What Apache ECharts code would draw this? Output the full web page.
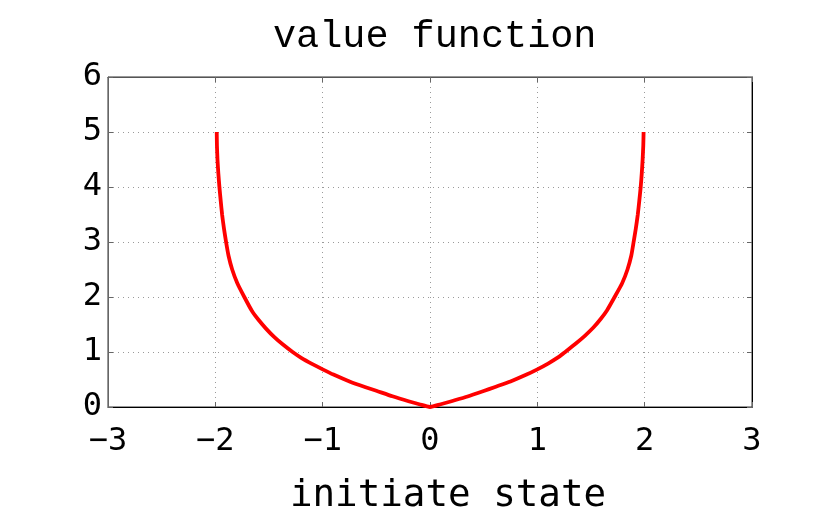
<!DOCTYPE html>
<html>
<head>
<meta charset="utf-8">
<script src="https://cdn.jsdelivr.net/npm/echarts@6/dist/echarts.min.js"></script>
<style>html,body{margin:0;padding:0;background:#fff}#c{width:830px;height:513px}</style>
</head>
<body>
<div id="c"></div>
<script>
const titleText = 'value function';
const xLabel = 'initiate state';
const xTicks = [-3, -2, -1, 0, 1, 2, 3];
const yTicks = [0, 1, 2, 3, 4, 5, 6];
const xValues = [-1.987, -1.985, -1.980, -1.972, -1.962, -1.950, -1.937, -1.920, -1.900, -1.877, -1.843, -1.795, -1.730, -1.660, -1.600, -1.530, -1.450, -1.370, -1.280, -1.200, -1.100, -1.000, -0.900, -0.750, -0.600, -0.500, -0.350, -0.200, -0.100, 0,
                 0.100, 0.200, 0.350, 0.500, 0.600, 0.750, 0.900, 1.000, 1.100, 1.200, 1.260, 1.350, 1.440, 1.520, 1.590, 1.650, 1.720, 1.790, 1.840, 1.875, 1.897, 1.918, 1.936, 1.950, 1.963, 1.973, 1.981, 1.987, 1.990];
const yValues = [5.00, 4.75, 4.50, 4.25, 4.00, 3.75, 3.50, 3.25, 3.00, 2.75, 2.50, 2.25, 2.00, 1.75, 1.59, 1.43, 1.27, 1.135, 1.00, 0.895, 0.785, 0.685, 0.59, 0.465, 0.36, 0.295, 0.195, 0.105, 0.05, 0,
                 0.05, 0.105, 0.19, 0.29, 0.36, 0.465, 0.59, 0.685, 0.79, 0.91, 1.00, 1.14, 1.29, 1.44, 1.60, 1.76, 2.00, 2.25, 2.50, 2.75, 3.00, 3.25, 3.50, 3.75, 4.00, 4.25, 4.50, 4.75, 5.00];

const data = xValues.map((x, i) => [x, yValues[i]]);
const mono = 'DejaVu Sans Mono';
const fmt = v => (v < 0 ? '\u2212' + Math.abs(v) : String(v));

const chart = echarts.init(document.getElementById('c'), null, {renderer: 'canvas'});
const gridLine = {show: true, lineStyle: {color: '#9a9a9a', type: [1, 4], width: 1}};
chart.setOption({
  animation: false,
  backgroundColor: '#fff',
  title: {
    text: titleText, left: 268, top: 12,
    textStyle: {fontFamily: "'Liberation Mono', 'Courier New', monospace", fontSize: 38.5, fontWeight: 'normal', color: '#000'}
  },
  grid: {left: 108, right: 78, top: 77, bottom: 106, show: true, borderColor: '#333', borderWidth: 1, outerBoundsMode: 'none', containLabel: false},
  xAxis: [{
    type: 'value', min: xTicks[0], max: xTicks[xTicks.length - 1], interval: 1,
    name: xLabel, nameLocation: 'middle', nameGap: 70,
    nameTextStyle: {fontFamily: mono, fontSize: 37.5, color: '#000', padding: [0, 0, 0, 36]},
    axisLine: {show: true, onZero: false, lineStyle: {color: '#000', width: 1}},
    axisTick: {show: true, inside: true, length: 5, lineStyle: {color: '#666'}},
    axisLabel: {fontFamily: mono, fontSize: 32, color: '#000', margin: 19, formatter: fmt},
    splitLine: gridLine
  }, {
    type: 'value', position: 'top', min: xTicks[0], max: xTicks[xTicks.length - 1], interval: 1,
    axisLine: {show: true, onZero: false, lineStyle: {color: '#555'}},
    axisTick: {show: true, inside: true, length: 5, lineStyle: {color: '#666'}},
    axisLabel: {show: false}, splitLine: {show: false}
  }],
  yAxis: [{
    type: 'value', min: yTicks[0], max: yTicks[yTicks.length - 1], interval: 1,
    axisLine: {show: true, onZero: false, lineStyle: {color: '#666', width: 1}},
    axisTick: {show: true, inside: true, length: 5, lineStyle: {color: '#666'}},
    axisLabel: {fontFamily: mono, fontSize: 32, color: '#000', margin: 6},
    splitLine: gridLine
  }, {
    type: 'value', position: 'right', min: yTicks[0], max: yTicks[yTicks.length - 1], interval: 1,
    axisLine: {show: true, onZero: false, lineStyle: {color: '#000'}},
    axisTick: {show: true, inside: true, length: 5, lineStyle: {color: '#666'}},
    axisLabel: {show: false}, splitLine: {show: false}
  }],
  series: [{
    type: 'line', data: data, showSymbol: false, smooth: 0.2,
    lineStyle: {color: '#ff0000', width: 3.8, join: 'round'}, z: 5
  }]
});
</script>
</body>
</html>
